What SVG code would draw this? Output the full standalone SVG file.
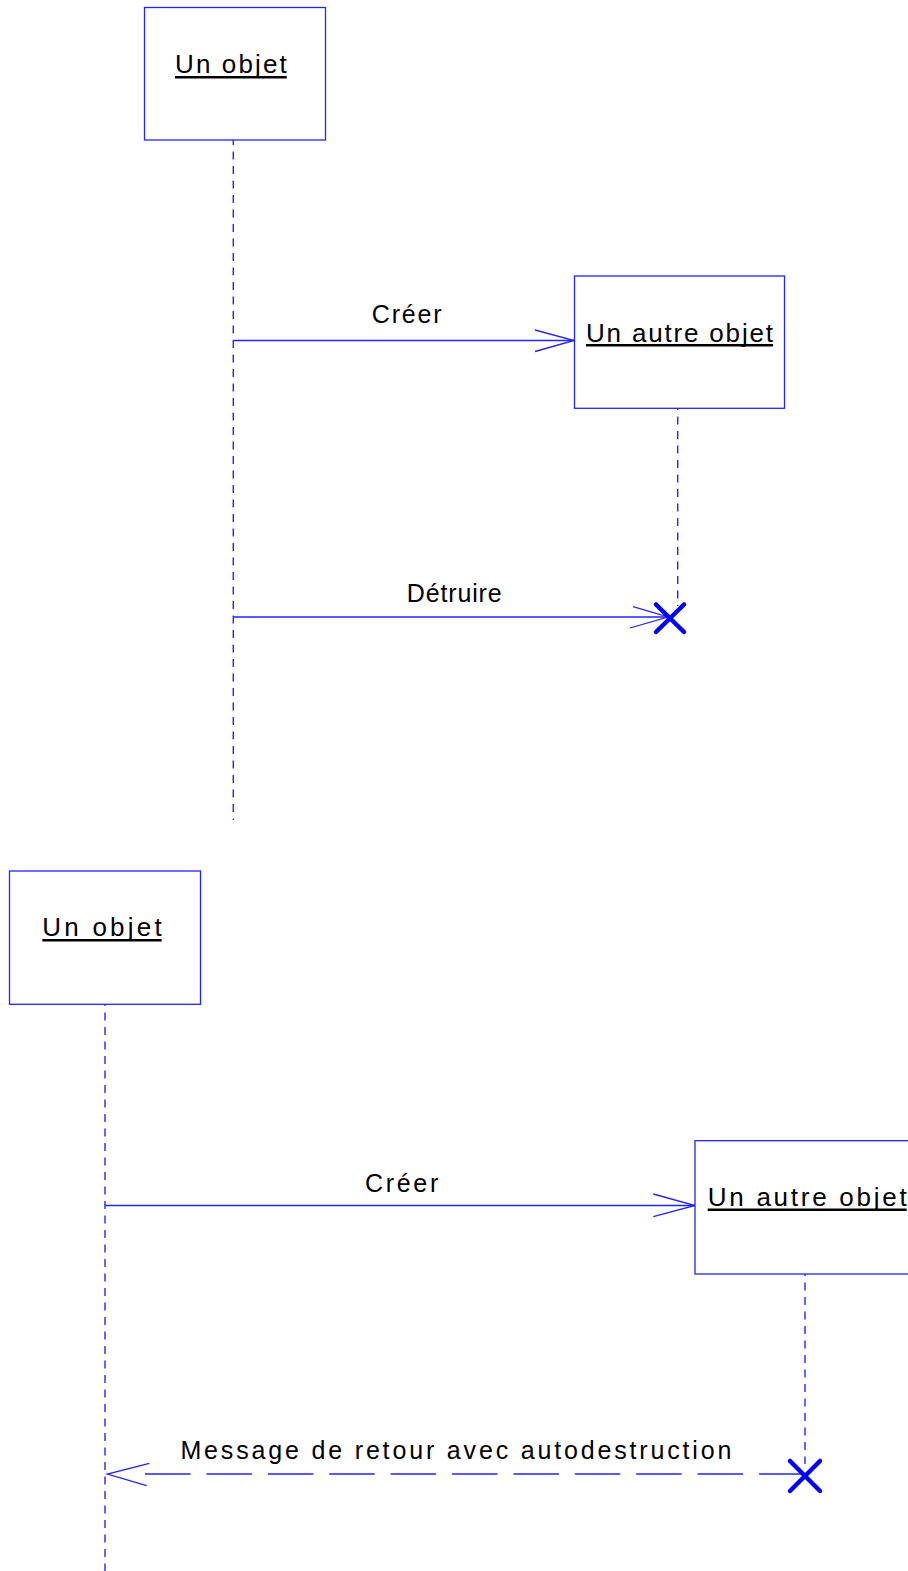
<svg xmlns="http://www.w3.org/2000/svg" width="908" height="1571" viewBox="0 0 908 1571">
<style>
.box{fill:#fff;stroke:#2424ff;stroke-width:1.3}
.lbl{font-family:"Liberation Sans",Arial,sans-serif;font-size:26px;fill:#000}
.msg{font-family:"Liberation Sans",Arial,sans-serif;font-size:25px;fill:#000}
.ul{stroke:#000;stroke-width:2.4}
.life{stroke:#2424ff;stroke-width:1.4;stroke-dasharray:8 6.5;fill:none}
.line{stroke:#2424ff;stroke-width:1.3;fill:none}
.ret{stroke:#2424ff;stroke-width:1.3;fill:none;stroke-dasharray:45.5 15.9}
.kill{stroke:#0000ff;stroke-width:4.5;stroke-linecap:round;fill:none}
</style>
<rect width="908" height="1571" fill="#fff"/>
<g id="connectors">
<line class="life" x1="233.3" y1="137" x2="233.3" y2="820"/>
<line class="life" x1="677.7" y1="402" x2="677.7" y2="606"/>
<line class="life" x1="105" y1="998" x2="105" y2="1571"/>
<line class="life" x1="805" y1="1268" x2="805" y2="1464"/>
<g id="msg-creer1">
<line class="line" x1="233.3" y1="340.5" x2="574" y2="340.5"/>
<polyline class="line" points="535,330 574,340.5 535,351.5"/>
<text class="msg" x="371.7" y="323.3" textLength="70" lengthAdjust="spacing">Créer</text>
</g>
<g id="msg-detruire">
<line class="line" x1="233.3" y1="617" x2="668" y2="617"/>
<polyline class="line" points="633,606.7 668,617 630,628"/>
<text class="msg" x="406.7" y="602.3" textLength="95" lengthAdjust="spacing">Détruire</text>
</g>
<g id="msg-creer2">
<line class="line" x1="105" y1="1205.5" x2="695" y2="1205.5"/>
<polyline class="line" points="653.3,1194 695,1205.5 653.3,1216.7"/>
<text class="msg" x="365" y="1191.7" textLength="73.3" lengthAdjust="spacing">Créer</text>
</g>
<g id="msg-retour">
<line class="ret" x1="145" y1="1474" x2="805" y2="1474"/>
<polyline class="line" points="149.3,1463.3 107.3,1474 146.7,1485.7"/>
<text class="msg" x="180.4" y="1459" textLength="551" lengthAdjust="spacing">Message de retour avec autodestruction</text>
</g>
</g>
<g id="obj1">
<rect class="box" x="144.5" y="7.5" width="181" height="132.5"/>
<text class="lbl" x="175" y="72.7" textLength="111.7" lengthAdjust="spacing">Un objet</text>
<line class="ul" x1="175" y1="77.3" x2="286.7" y2="77.3"/>
</g>
<g id="obj2">
<rect class="box" x="574.5" y="276" width="210" height="132.3"/>
<text class="lbl" x="586" y="341.7" textLength="187" lengthAdjust="spacing">Un autre objet</text>
<line class="ul" x1="586" y1="345.3" x2="773" y2="345.3"/>
</g>
<g id="kill1">
<line class="kill" x1="656" y1="604.5" x2="684" y2="632"/>
<line class="kill" x1="684" y1="604.5" x2="656" y2="632"/>
</g>
<g id="obj3">
<rect class="box" x="9.5" y="871" width="191" height="133.3"/>
<text class="lbl" x="42.3" y="936.3" textLength="119.4" lengthAdjust="spacing">Un objet</text>
<line class="ul" x1="42.3" y1="940.2" x2="161.7" y2="940.2"/>
</g>
<g id="obj4">
<rect class="box" x="695" y="1140.7" width="230" height="133.3"/>
<text class="lbl" x="707.7" y="1206" textLength="199" lengthAdjust="spacing">Un autre objet</text>
<line class="ul" x1="707.7" y1="1209.7" x2="906.7" y2="1209.7"/>
</g>
<g id="kill2">
<line class="kill" x1="790" y1="1461" x2="820" y2="1491"/>
<line class="kill" x1="820" y1="1461" x2="790" y2="1491"/>
</g>
</svg>
